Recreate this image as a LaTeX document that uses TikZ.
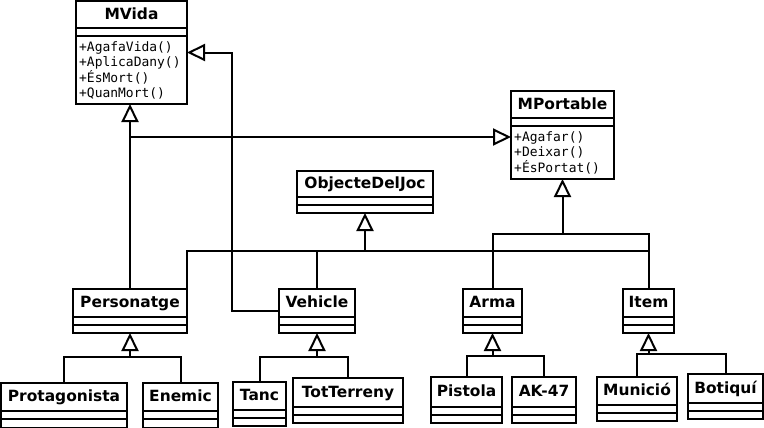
\documentclass[tikz,border=0pt]{standalone}
\usepackage{fontspec}
\setmainfont{DejaVu Sans}
\setmonofont{DejaVu Sans Mono}
\usetikzlibrary{arrows.meta}
\tikzset{
  box/.style={draw, line width=2bp, inner sep=0pt, outer sep=0pt},
  sepline/.style={line width=2bp},
  conn/.style={draw, line width=2bp},
  inh/.style={conn, -{Triangle[open, length=18bp, width=17bp, line width=2bp]}},
  cname/.style={font=\fontsize{15.5}{17}\selectfont\bfseries, anchor=base, inner sep=0pt},
  meth/.style={font=\fontsize{13}{15}\selectfont\ttfamily, anchor=base west, inner sep=0pt},
}
% id, x1, y1, x2, y2, y of name bottom, text
\newcommand\umlclass[7]{%
  \node[box, anchor=north west, minimum width={(#4-#2)*1bp}, minimum height={(#5-#3)*1bp}] (#1) at (#2,#3) {};
  \draw[sepline] (#2,#6) -- (#4,#6);
  \draw[sepline] (#2,{#6+8}) -- (#4,{#6+8});
  \node[cname] (#1n) at ({(#2+#4)/2},{(#3+#6)/2+4.5}) {#7};
}
\begin{document}
\begin{tikzpicture}[x=1bp, y=-1bp]
\useasboundingbox (0,0) rectangle (764,427);
\fill[white] (0,0) rectangle (764,427);

\umlclass{MVida}{76}{1}{187}{104}{28}{MVida}
\node[meth] (mv1) at (79,51) {+AgafaVida()};
\node[meth] (mv2) at (79,66.5) {+AplicaDany()};
\node[meth] (mv3) at (79,82) {+ÉsMort()};
\node[meth] (mv4) at (79,97.5) {+QuanMort()};

\umlclass{MPortable}{511}{91}{614}{179}{118}{MPortable}
\node[meth] (mp1) at (514,141) {+Agafar()};
\node[meth] (mp2) at (514,156.5) {+Deixar()};
\node[meth] (mp3) at (514,172) {+ÉsPortat()};

\umlclass{ODJ}{297}{171}{433}{213}{197}{ObjecteDelJoc}

\umlclass{Personatge}{73}{289}{187}{333}{317}{Personatge}
\umlclass{Vehicle}{279}{289}{355}{333}{317}{Vehicle}
\umlclass{Arma}{463}{289}{522}{333}{317}{Arma}
\umlclass{Item}{623}{289}{674}{333}{317}{Item}

\umlclass{Protagonista}{1}{383}{127}{427.5}{411}{Protagonista}
\umlclass{Enemic}{143}{383}{218}{427.5}{411}{Enemic}
\umlclass{Tanc}{233}{382}{286}{426}{410}{Tanc}
\umlclass{TotTerreny}{293}{378}{403}{423}{407}{TotTerreny}
\umlclass{Pistola}{431}{377}{502}{423}{407}{Pistola}
\umlclass{AK47}{512}{377}{576}{423}{407}{AK-47}
\umlclass{Municio}{597}{377}{677}{421}{405}{Munició}
\umlclass{Botiqui}{688}{374}{763}{419}{403}{Botiquí}

% bus junctions
\coordinate (bODJ) at (365,251);
\coordinate (bMP) at (562.5,234);
\coordinate (vm) at (232,0);
\coordinate (bP) at (130,357);
\coordinate (bV) at (317,357);
\coordinate (bA) at (492.5,356);
\coordinate (bI) at (648.5,354);

% Personatge -> MVida, MPortable
\draw[inh] (Personatge.north) -- (Personatge.north |- MVida.south);
\draw[inh] (Personatge.north |- 0,137) -- (MPortable.west |- 0,137);
% Vehicle -> MVida
\draw[inh] (Vehicle.west) -| (vm |- MVida.east) -- (MVida.east);
% -> ObjecteDelJoc
\draw[inh] (bODJ) -- (ODJ.south);
\draw[conn] (Personatge.north east) |- (Item.north |- bODJ);
\draw[conn] (Vehicle.north) -- (Vehicle.north |- bODJ);
% -> MPortable
\draw[inh] (bMP) -- (MPortable.south);
\draw[conn] (Arma.north) -- (Arma.north |- bMP) -- (Item.north |- bMP) -- (Item.north);

% sub hierarchies
\draw[inh] (bP) -- (Personatge.south);
\draw[conn] (Protagonista.north) |- (bP) -| (Enemic.north);
\draw[inh] (bV) -- (Vehicle.south);
\draw[conn] (Tanc.north) |- (bV) -| (TotTerreny.north);
\draw[inh] (bA) -- (Arma.south);
\draw[conn] (Pistola.north) |- (bA) -| (AK47.north);
\draw[inh] (bI) -- (Item.south);
\draw[conn] (Municio.north) |- (bI) -| (Botiqui.north);
\end{tikzpicture}
\end{document}
